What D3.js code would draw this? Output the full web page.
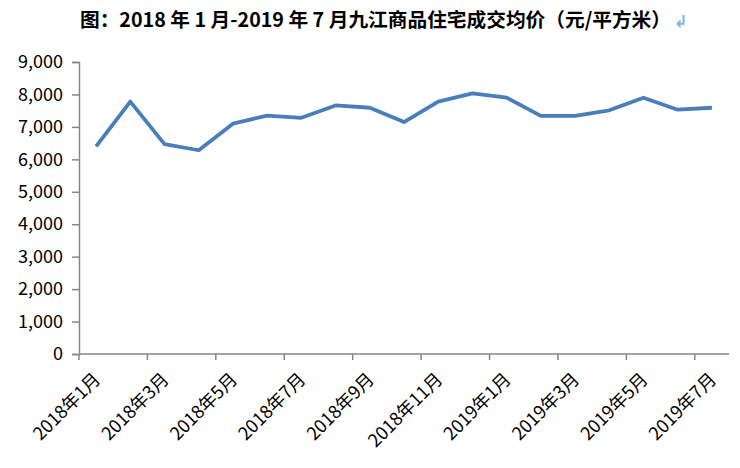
<!DOCTYPE html>
<html>
<head>
<meta charset="utf-8">
<script src="https://cdn.jsdelivr.net/npm/d3@7"></script>
<style>
  body { margin: 0; background: #fff; }
  text { font-family: "Noto Sans CJK SC", "Noto Sans", sans-serif; }
</style>
</head>
<body>
<div class="chart"></div>
<script>
// 九江商品住宅成交均价，2018年1月 - 2019年7月
var months = ["2018年1月", "2018年2月", "2018年3月", "2018年4月", "2018年5月", "2018年6月",
    "2018年7月", "2018年8月", "2018年9月", "2018年10月", "2018年11月", "2018年12月",
    "2019年1月", "2019年2月", "2019年3月", "2019年4月", "2019年5月", "2019年6月", "2019年7月"];
var prices = [6400, 7780, 6470, 6280, 7100, 7350, 7280, 7660, 7590, 7150,
    7780, 8030, 7900, 7340, 7340, 7510, 7900, 7530, 7590];
var yTicks = [0, 1000, 2000, 3000, 4000, 5000, 6000, 7000, 8000, 9000];
var title = "图：2018 年 1 月-2019 年 7 月九江商品住宅成交均价（元/平方米）";

var W = 740, H = 468;
var margins = { top: 62, left: 79, right: 11, bottom: 114 };
var width = W - margins.left - margins.right;
var height = H - margins.top - margins.bottom;

var root = d3.select('.chart')
    .append('svg')
    .attr('width', W)
    .attr('height', H);

var titleText = root.append('text')
    .attr('x', 80)
    .attr('y', 27)
    .attr('font-size', 19.7)
    .attr('font-weight', 'bold')
    .attr('fill', '#000')
    .text(title);

var tw = titleText.node().getComputedTextLength();
root.append('text')
    .attr('x', 80 + tw + 3)
    .attr('y', 27)
    .attr('font-size', 16)
    .attr('font-weight', 'bold')
    .attr('fill', '#7fb5ea')
    .text('↲');

var svg = root.append('g')
    .attr('transform', 'translate(' + margins.left + ',' + margins.top + ')');

var xScale = d3.scaleBand()
    .domain(months)
    .range([0, width])
    .padding(0);

var yScale = d3.scaleLinear()
    .domain([0, 9000])
    .range([height, 0]);

// y axis
var yAxis = d3.axisLeft(yScale)
    .tickValues(yTicks)
    .tickSize(7)
    .tickPadding(9)
    .tickFormat(d3.format(','));

var gy = svg.append('g').call(yAxis);
gy.select('.domain').attr('stroke', '#868686').attr('stroke-width', 1.5);
gy.selectAll('.tick line').attr('stroke', '#868686').attr('stroke-width', 1.5);
gy.selectAll('.tick text')
    .attr('font-size', 18)
    .attr('fill', '#000')
    .attr('font-family', '"Noto Sans CJK SC", sans-serif');

// x axis: ticks at category boundaries, every 2nd
var gx = svg.append('g')
    .attr('transform', 'translate(0,' + height + ')');

gx.append('line')
    .attr('x1', 0)
    .attr('x2', width)
    .attr('stroke', '#868686')
    .attr('stroke-width', 1.5);

months.forEach(function (m, i) {
    if (i % 2 === 0) {
        gx.append('line')
            .attr('x1', xScale(m))
            .attr('x2', xScale(m))
            .attr('y1', 0)
            .attr('y2', 6)
            .attr('stroke', '#868686')
            .attr('stroke-width', 1.5);
        var cx = xScale(m) + xScale.bandwidth() / 2;
        gx.append('text')
            .attr('transform', 'translate(' + (cx + 1) + ',' + 22 + ') rotate(-45)')
            .attr('text-anchor', 'end')
            .attr('dy', '0.35em')
            .attr('font-size', 18)
            .attr('fill', '#000')
            .text(m);
    }
});

// price line
var line = d3.line()
    .x(function (d, i) { return xScale(months[i]) + xScale.bandwidth() / 2; })
    .y(function (d) { return yScale(d); });

svg.append('path')
    .datum(prices)
    .attr('fill', 'none')
    .attr('stroke', '#4a7ebb')
    .attr('stroke-width', 3.8)
    .attr('stroke-linejoin', 'round')
    .attr('d', line);
</script>
</body>
</html>
